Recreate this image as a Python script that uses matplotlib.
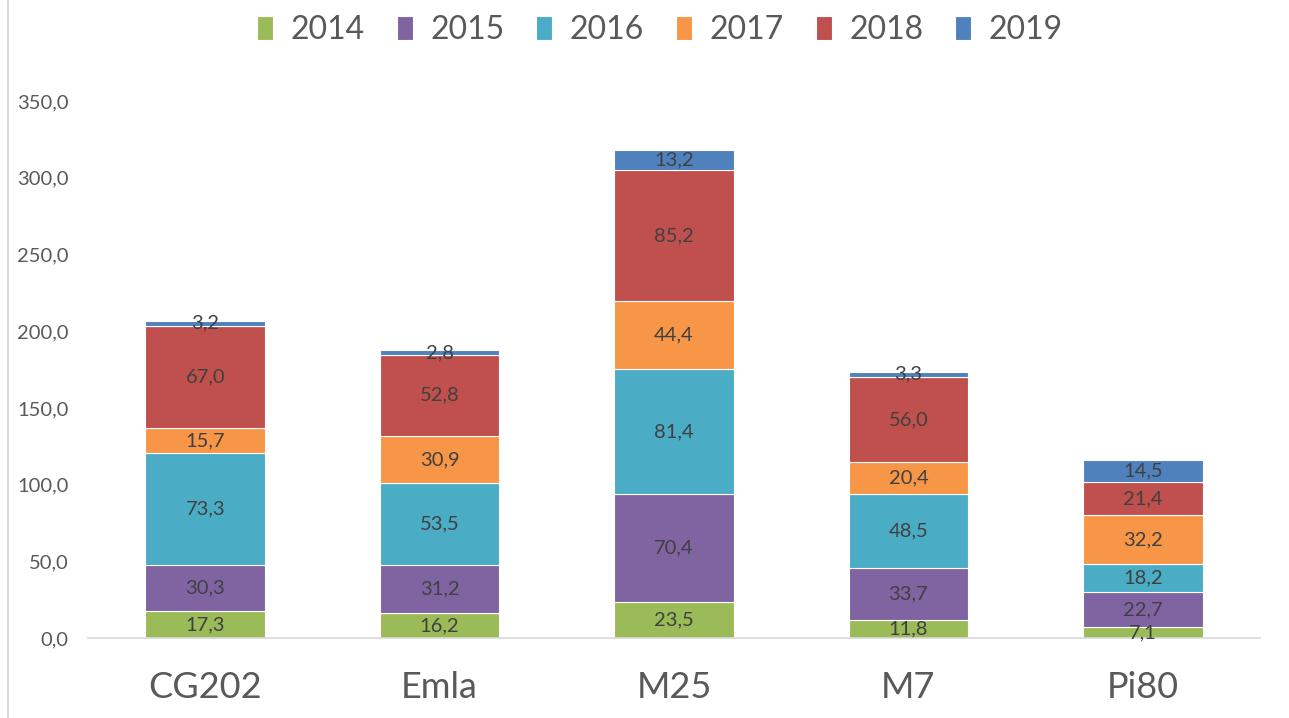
import numpy as np
import matplotlib
matplotlib.use("Agg")
import matplotlib.pyplot as plt
from matplotlib.lines import Line2D

# ---- data ------------------------------------------------------------------
categories = ["CG202", "Emla", "M25", "M7", "Pi80"]
years = ["2014", "2015", "2016", "2017", "2018", "2019"]

v2014 = [17.3, 16.2, 23.5, 11.8, 7.1]
v2015 = [30.3, 31.2, 70.4, 33.7, 22.7]
v2016 = [73.3, 53.5, 81.4, 48.5, 18.2]
v2017 = [15.7, 30.9, 44.4, 20.4, 32.2]
v2018 = [67.0, 52.8, 85.2, 56.0, 21.4]
v2019 = [3.2, 2.8, 13.2, 3.3, 14.5]

yticks = [0, 50, 100, 150, 200, 250, 300, 350]

colors = ["#9BBB59", "#8064A2", "#4BACC6", "#F79646", "#C0504D", "#4F81BD"]

# ---- plot ------------------------------------------------------------------
plt.rcParams["font.family"] = ["Lato", "DejaVu Sans"]
fig = plt.figure(figsize=(12.89, 7.18), dpi=100)
ax = fig.add_axes([0.0683, 0.1114, 0.9092, 0.7479])

series = [v2014, v2015, v2016, v2017, v2018, v2019]
x = np.arange(len(categories))
bottom = np.zeros(len(categories))
txt = "#404040"
for yr, vals, c in zip(years, series, colors):
    vals = np.array(vals)
    ax.bar(x, vals, 0.51, bottom=bottom, color=c, edgecolor="white",
           linewidth=0.8, label=yr)
    for xi, b, v in zip(x, bottom, vals):
        ax.text(xi, b + v / 2, f"{v:.1f}".replace(".", ","), ha="center",
                va="center", fontsize=14.5, color=txt)
    bottom += vals

ax.set_xlim(-0.5, len(categories) - 0.5)
ax.set_ylim(0, 350)
ax.set_yticks(yticks)
ax.set_yticklabels([f"{t:.1f}".replace(".", ",") for t in yticks],
                   fontsize=14.5, color="#595959")
ax.set_xticks(x)
ax.set_xticklabels(categories, fontsize=26, color="#595959")
ax.tick_params(axis="y", length=0, pad=14)
ax.tick_params(axis="x", length=0, pad=24)
for s in ["top", "right", "left"]:
    ax.spines[s].set_visible(False)
ax.spines["bottom"].set_color("#D9D9D9")
ax.spines["bottom"].set_linewidth(1.2)

ax.legend(loc="center", bbox_to_anchor=(0.512, 0.958),
          bbox_transform=fig.transFigure, ncol=6, frameon=False, fontsize=23,
          handlelength=0.5, handleheight=0.8, handletextpad=0.55,
          columnspacing=1.0, labelcolor="#595959")

# light frame line on the left edge
fig.add_artist(Line2D([0.0065, 0.0065], [0, 1], transform=fig.transFigure,
                      color="#D9D9D9", lw=1.5))

fig.savefig("out.png", dpi=100)
